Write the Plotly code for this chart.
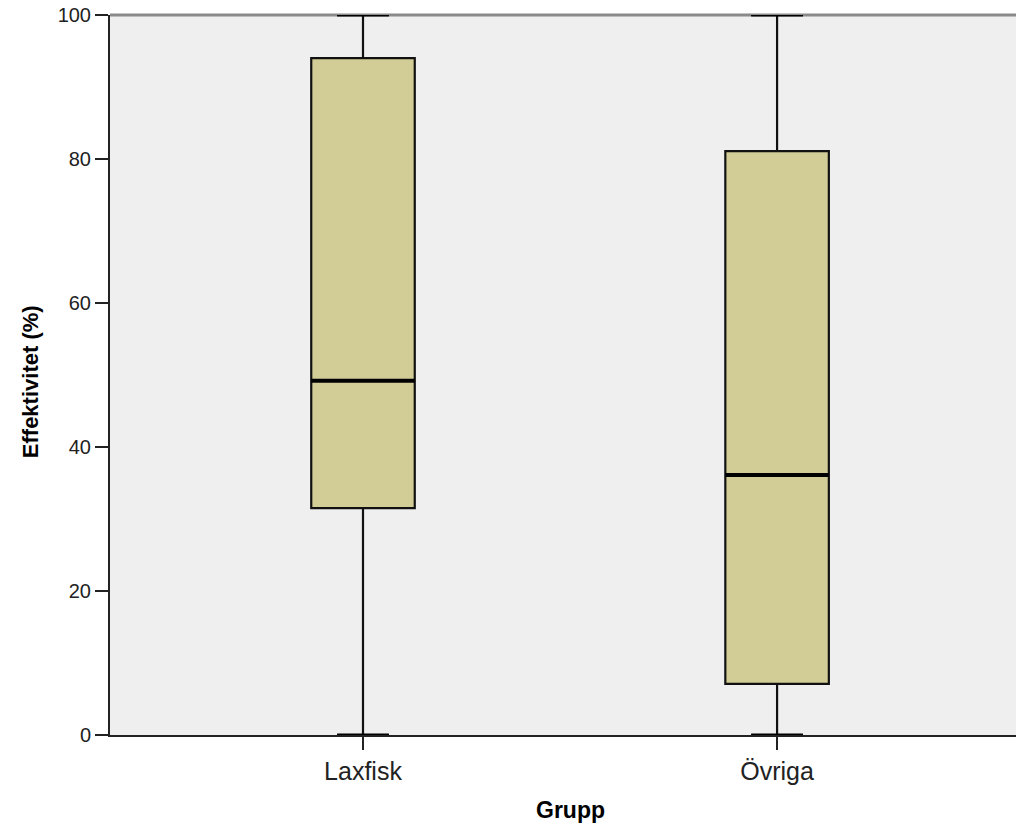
import plotly.graph_objects as go

# Data
groups = ["Laxfisk", "Övriga"]
positions = [0, 1]
lower_whisker = [0.0, 0.0]
q1_vals = [31.5, 7.1]
median_vals = [49.2, 36.1]
q3_vals = [94.0, 81.1]
upper_whisker = [100.0, 100.0]
y_ticks = [0, 20, 40, 60, 80, 100]

box_width = 0.25
fill_color = "#D2CD96"

fig = go.Figure()
fig.add_trace(go.Box(
    x=positions, q1=q1_vals, median=median_vals, q3=q3_vals,
    lowerfence=lower_whisker, upperfence=upper_whisker,
    width=box_width, whiskerwidth=0.5,
    fillcolor=fill_color,
    line=dict(color="#111111", width=2.2),
    boxpoints=False, showlegend=False, hoverinfo="skip",
))
# Thicker median lines
for p, m in zip(positions, median_vals):
    fig.add_trace(go.Scatter(
        x=[p - box_width / 2, p + box_width / 2], y=[m, m],
        mode="lines", line=dict(color="black", width=4),
        showlegend=False, hoverinfo="skip",
    ))
# Whisker caps drawn bolder
for p, lo, hi in zip(positions, lower_whisker, upper_whisker):
    for v in (lo, hi):
        fig.add_trace(go.Scatter(
            x=[p - box_width / 4, p + box_width / 4], y=[v, v],
            mode="lines", line=dict(color="black", width=3),
            showlegend=False, hoverinfo="skip", cliponaxis=False,
        ))

fig.update_layout(
    width=1016, height=827,
    margin=dict(l=110, r=0, t=15, b=92),
    paper_bgcolor="white", plot_bgcolor="#EFEFEF",
    font=dict(family="Arial, Liberation Sans, sans-serif", color="#222222"),
    xaxis=dict(
        range=[-0.611, 1.577], tickvals=positions, ticktext=groups,
        showgrid=False, zeroline=False,
        showline=True, linecolor="#222222", linewidth=2,
        ticks="outside", ticklen=13, tickwidth=2, tickcolor="#222222",
        tickfont=dict(size=25, color="#222222"),
    ),
    yaxis=dict(
        range=[0, 100], tickvals=y_ticks,
        showgrid=False, zeroline=False,
        showline=True, linecolor="#222222", linewidth=2,
        ticks="outside", ticklen=13, tickwidth=2, tickcolor="#222222",
        tickfont=dict(size=20, color="#222222"),
    ),
    shapes=[dict(type="line", xref="paper", yref="paper", x0=0, x1=1, y0=1, y1=1,
                 layer="below", line=dict(color="#8A8A8A", width=3))],
    annotations=[
        dict(text="<b>Effektivitet (%)</b>", xref="paper", yref="paper",
             x=-0.0883, y=0.49, textangle=-90, showarrow=False,
             xanchor="center", yanchor="middle",
             font=dict(size=22, color="black")),
        dict(text="<b>Grupp</b>", xref="x", yref="paper",
             x=0.5, y=-0.104, showarrow=False,
             xanchor="center", yanchor="middle",
             font=dict(size=23, color="black")),
    ],
)

fig.write_html("out.html", config={"displayModeBar": False},
               post_script="document.body.style.margin='0';document.body.style.overflow='hidden';")
